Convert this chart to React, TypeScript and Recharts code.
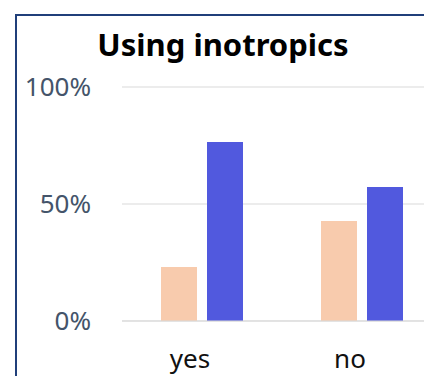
import React from 'react';
import { BarChart, Bar, XAxis, YAxis, CartesianGrid } from 'recharts';

// Shares of patients (%)
const categories = ['yes', 'no'];
const seriesA = [23.1, 42.7];
const seriesB = [76.5, 57.3];
const yTicks = [0, 50, 100];

const data = categories.map((name, i) => ({ name, a: seriesA[i], b: seriesB[i] }));

const font = '"Noto Sans", "Open Sans", sans-serif';

const App: React.FC = () => {
  return (
    <div
      style={{
        position: 'absolute',
        left: 0,
        top: 0,
        width: 424,
        height: 376,
        overflow: 'hidden',
        background: '#ffffff',
        fontFamily: font,
      }}
    >
      {/* frame, clipped on the right and bottom like the original */}
      <div
        style={{
          position: 'absolute',
          left: 15,
          top: 14,
          width: 600,
          height: 600,
          borderLeft: '2px solid #203f7a',
          borderTop: '2px solid #203f7a',
        }}
      />
      <div
        style={{
          position: 'absolute',
          left: 0,
          top: 24,
          width: 446,
          textAlign: 'center',
          fontSize: 31,
          fontWeight: 700,
          color: '#000000',
          lineHeight: '40px',
        }}
      >
        Using inotropics
      </div>
      <div style={{ position: 'absolute', left: 0, top: 0 }}>
        <BarChart
          width={442}
          height={400}
          data={data}
          margin={{ top: 87, right: 0, left: 0, bottom: 39 }}
          barSize={36}
          barGap={10}
        >
          <CartesianGrid horizontal vertical={false} stroke="#d9d9d9" />
          <XAxis
            dataKey="name"
            height={40}
            axisLine={{ stroke: '#d9d9d9' }}
            tickLine={false}
            tickSize={0}
            tickMargin={29}
            tick={{ fill: '#111111', fontSize: 26, fontFamily: font, dx: -12 }}
          />
          <YAxis
            width={122}
            domain={[0, 100]}
            ticks={yTicks}
            axisLine={false}
            tickLine={false}
            tickSize={0}
            tickMargin={31}
            tick={{ fill: '#44546a', fontSize: 26, fontFamily: font }}
            tickFormatter={(v) => `${v}%`}
          />
          <Bar dataKey="a" name="group A" fill="#f8cbad" isAnimationActive={false} />
          <Bar dataKey="b" name="group B" fill="#5159de" isAnimationActive={false} />
        </BarChart>
      </div>
    </div>
  );
};

export default App;
